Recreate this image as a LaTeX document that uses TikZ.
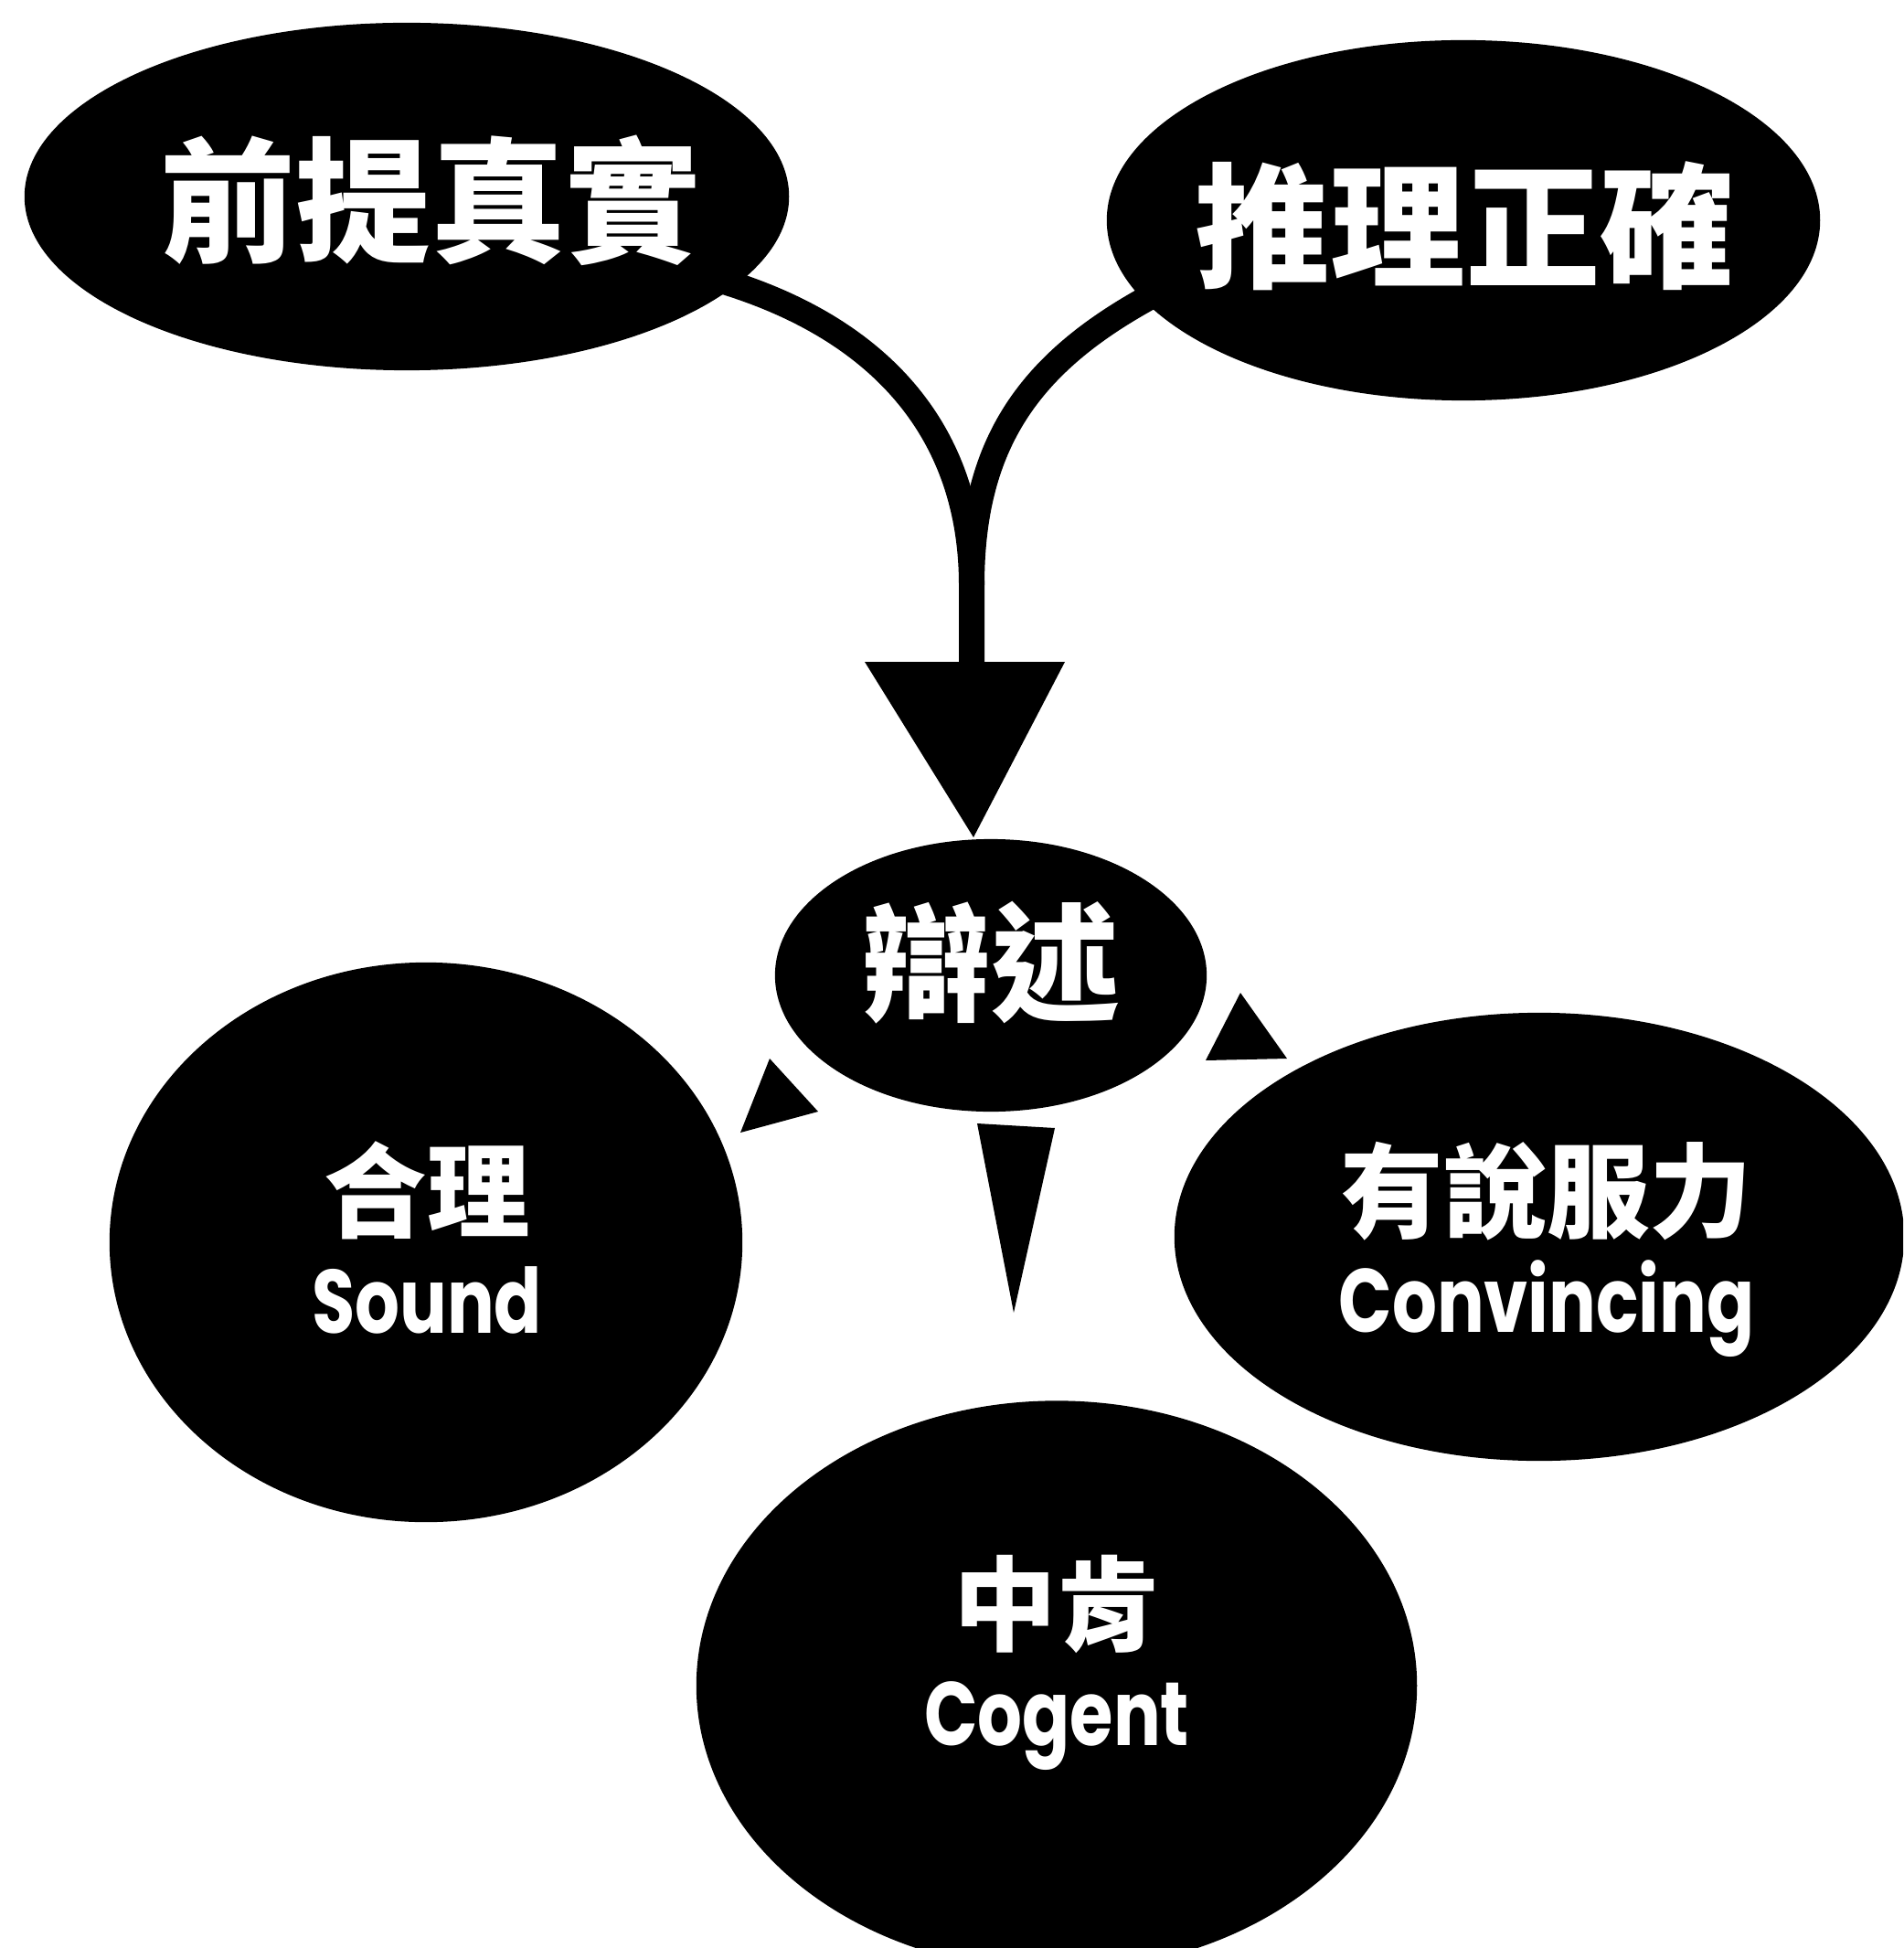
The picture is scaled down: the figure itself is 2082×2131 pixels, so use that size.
\documentclass[tikz,border=0pt]{standalone}
\usepackage{fontspec}
\newfontfamily\cjk{Noto Sans CJK TC}
\newfontfamily\latf{Poppins}
\usetikzlibrary{shapes.geometric,backgrounds}
\newcommand{\lat}[1]{\scalebox{0.78}[1]{\latf\bfseries\fontsize{28}{28}\selectfont #1}}
\begin{document}
\begin{tikzpicture}[x=0.01cm,y=-0.01cm,
  blob/.style={ellipse, fill=black, draw=none, inner sep=0pt},
  bigtxt/.style={text=white, inner sep=0pt, font=\cjk\bfseries\fontsize{42}{42}\selectfont},
  smalltxt/.style={text=white, inner sep=0pt, align=center, font=\cjk\bfseries\fontsize{32}{32}\selectfont},
  link/.style={line width=0.28cm, draw=black},
  head/.style={fill=black, draw=none}]
\useasboundingbox (0,0) rectangle (2082,2131);
\clip (0,0) rectangle (2082,2131);

% shapes
\node[blob, minimum width=8.36cm, minimum height=3.80cm] (prem) at (445,215) {};
\node[blob, minimum width=7.80cm, minimum height=3.94cm] (valid) at (1601,241) {};
\node[blob, minimum width=4.72cm, minimum height=2.98cm] (arg) at (1084,1067) {};
\node[blob, minimum width=6.92cm, minimum height=6.12cm] (sound) at (466,1359) {};
\node[blob, minimum width=7.98cm, minimum height=4.90cm] (conv) at (1684,1353) {};
\node[blob, minimum width=7.88cm, minimum height=6.23cm] (cog) at (1156,1844) {};

% connector points
\coordinate (merge) at (1063,640);
\coordinate (tritop) at (1063,730);

% connectors (behind the ellipses)
\begin{scope}[on background layer]
  \fill[white] (0,0) rectangle (2082,2131);
  \draw[link, shorten <=-0.3cm] (prem.-15) .. controls (960,355) and (1063,470) .. (merge) -- (tritop);
  \draw[link, shorten <=-0.3cm] (valid.194) .. controls (1130,390) and (1063,480) .. (merge);
\end{scope}

% arrowheads
\fill[head] (946,724) -- (1165,724) -- (1065,916) -- cycle;
\fill[head] (842,1158) -- (895,1216) -- (810,1239) -- cycle;
\fill[head] (1357,1086) -- (1408,1158) -- (1319,1160) -- cycle;
\fill[head] (1069,1229) -- (1154,1234) -- (1109,1436) -- cycle;

% texts
\node[bigtxt] (premT) at (471,219) {前提真實};
\node[bigtxt] (validT) at (1603,247) {推理正確};
\node[bigtxt, font=\cjk\bfseries\fontsize{40}{40}\selectfont] (argT) at (1084,1053) {辯述};
\node[smalltxt] (soundT) at (467,1354) {合理\\\lat{Sound}};
\node[smalltxt] (convT) at (1692,1367) {有說服力\\\lat{Convincing}};
\node[smalltxt] (cogT) at (1156,1819) {中肯\\\lat{Cogent}};
\end{tikzpicture}
\end{document}
